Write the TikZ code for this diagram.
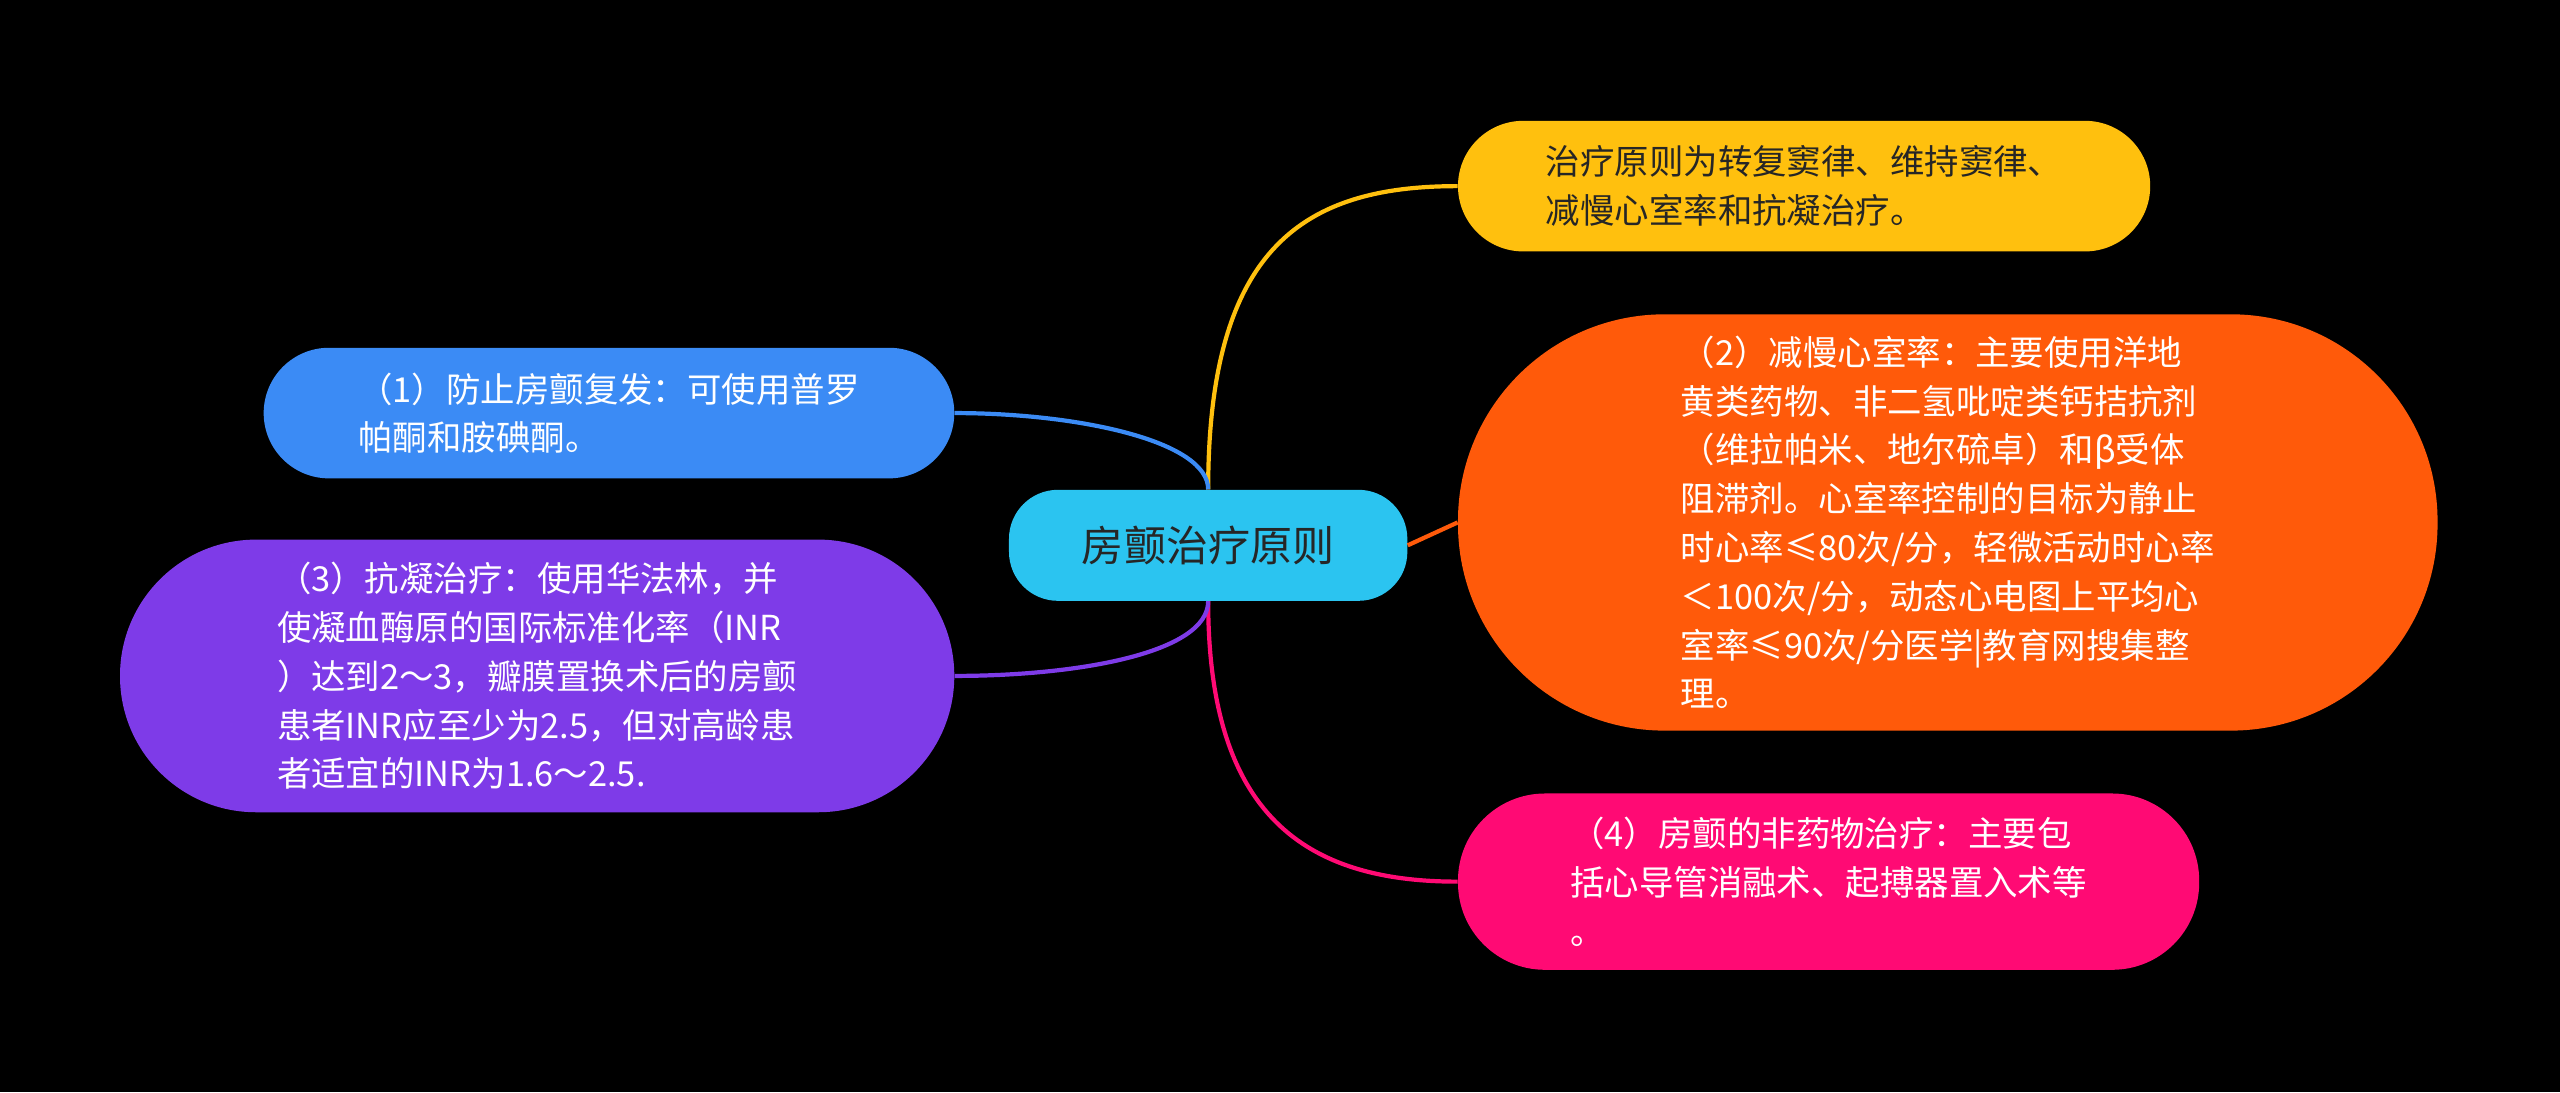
\documentclass[tikz,border=0pt]{standalone}
\usepackage{fontspec}
\setmainfont{Noto Sans CJK SC}
\begin{document}
\begin{tikzpicture}[x=0.03cm,y=-0.03cm,
 box/.style={inner sep=0pt,align=left,text=white,font=\fontsize{18}{25.5}\selectfont},
 link/.style={line width=2.2pt}]
\fill[black] (0,0) rectangle (1568,669);
\useasboundingbox (0,0) rectangle (1568,669);
\node[box,fill={rgb,255:red,43;green,196;blue,240},rounded corners=0.9cm,minimum width=244*0.03cm,minimum height=68*0.03cm,text=black!85,font=\fontsize{22}{26}\selectfont] (c) at (740,334) {房颤治疗原则};
\node[box,fill={rgb,255:red,255;green,192;blue,14},rounded corners=1.2cm,minimum width=424*0.03cm,minimum height=80*0.03cm,text=black!85] (y) at (1105,114) {治疗原则为转复窦律、维持窦律、\\减慢心室率和抗凝治疗。};
\node[box,fill={rgb,255:red,255;green,90;blue,10},rounded corners=3.8cm,minimum width=600*0.03cm,minimum height=255*0.03cm] (o) at (1193,320) {（2）减慢心室率：主要使用洋地\\黄类药物、非二氢吡啶类钙拮抗剂\\（维拉帕米、地尔硫卓）和β受体\\阻滞剂。心室率控制的目标为静止\\时心率≤80次/分，轻微活动时心率\\＜100次/分，动态心电图上平均心\\室率≤90次/分医学|教育网搜集整\\理。};
\node[box,fill={rgb,255:red,255;green,10;blue,116},rounded corners=1.6cm,minimum width=454*0.03cm,minimum height=108*0.03cm] (p) at (1120,540) {（4）房颤的非药物治疗：主要包\\括心导管消融术、起搏器置入术等\\。};
\node[box,fill={rgb,255:red,59;green,139;blue,245},rounded corners=1.2cm,minimum width=423*0.03cm,minimum height=80*0.03cm] (b) at (373,253) {（1）防止房颤复发：可使用普罗\\帕酮和胺碘酮。};
\node[box,fill={rgb,255:red,126;green,59;blue,232},rounded corners=2.5cm,minimum width=511*0.03cm,minimum height=167*0.03cm] (v) at (329,414) {（3）抗凝治疗：使用华法林，并\\使凝血酶原的国际标准化率（INR\\）达到2～3，瓣膜置换术后的房颤\\患者INR应至少为2.5，但对高龄患\\者适宜的INR为1.6～2.5.};
\draw[link,draw={rgb,255:red,255;green,192;blue,14}] (c.north) .. controls (740,150) and (800,114) .. (y.west);
\draw[link,draw={rgb,255:red,255;green,90;blue,10}] (c.east) -- (o.west);
\draw[link,draw={rgb,255:red,255;green,10;blue,116}] (c.south) .. controls (740,500) and (800,540) .. (p.west);
\draw[link,draw={rgb,255:red,59;green,139;blue,245}] (c.north) .. controls (740,270) and (660,253) .. (b.east);
\draw[link,draw={rgb,255:red,126;green,59;blue,232}] (c.south) .. controls (740,400) and (660,414) .. (v.east);
\end{tikzpicture}
\end{document}
